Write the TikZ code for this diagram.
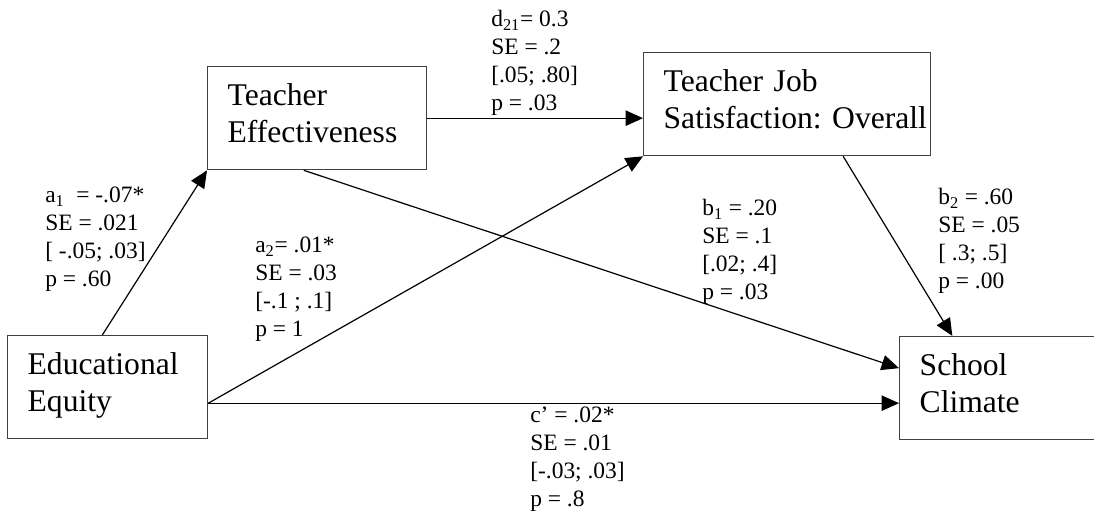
\documentclass[tikz,border=0pt]{standalone}
\usepackage{fontspec}
\setmainfont{Liberation Serif}
\usetikzlibrary{arrows.meta}
\definecolor{edge}{RGB}{64,64,64}

\begin{document}
\begin{tikzpicture}[x=0.75pt, y=-0.75pt,
  box/.style={draw=edge, line width=1pt, anchor=north west, minimum height=77.25pt, inner xsep=15pt, inner ysep=0pt, text depth=36pt, align=left, font=\fontsize{23.7pt}{27.75pt}\selectfont},
  est/.style={anchor=north west, inner sep=0pt, align=left, font=\fontsize{17.6pt}{21pt}\selectfont},
  link/.style={line width=0.9pt, -{Triangle[length=13pt, width=11.5pt]}},
]
  \useasboundingbox (0,0) rectangle (1094,516);
  \node[box, text width=120pt] (equity) at (7,335) {Educational\\Equity};
  \node[box, text width=134.25pt] (effect) at (207,66) {Teacher\\Effectiveness};
  \node[box, text width=185.25pt] (satisf) at (643,52) {Teacher Job\\\mbox{Satisfaction:\ Overall}};
  \node[box, text width=140pt] (climate) at (899,336) {School\\Climate};

  \draw[link] ([xshift=-4pt]equity.north) -- (effect.south west);
  \draw[link] ([yshift=-12pt]equity.east) -- (satisf.south west);
  \draw[link] ([yshift=-12pt]equity.east) -- ([yshift=-12pt]equity.east -| climate.west);
  \draw[link] (effect.east) -- (effect.east -| satisf.west);
  \draw[link] ([xshift=-10pt]effect.south) -- ([yshift=15pt]climate.west);
  \draw[link] ([xshift=42pt]satisf.south) -- ([xshift=40pt]climate.north west);

  \node[est] (a1) at (45,187) {a\textsubscript{1}\ \ = -.07*\\SE = .021\\{[} -.05; .03]\\p = .60};
  \node[est] (a2) at (255,237) {a\textsubscript{2}= .01*\\SE = .03\\{[}-.1 ; .1]\\p = 1};
  \node[est] (d21) at (491,10) {d\textsubscript{21}= 0.3\\SE = .2\\{[}.05; .80]\\p = .03};
  \node[est] (b1) at (702,199) {b\textsubscript{1} = .20\\SE = .1\\{[}.02; .4]\\p = .03};
  \node[est] (b2) at (938,188) {b\textsubscript{2} = .60\\SE = .05\\{[} .3; .5]\\p = .00};
  \node[est] (c) at (530,407) {c' = .02*\\SE = .01\\{[}-.03; .03]\\p = .8};
\end{tikzpicture}
\end{document}
